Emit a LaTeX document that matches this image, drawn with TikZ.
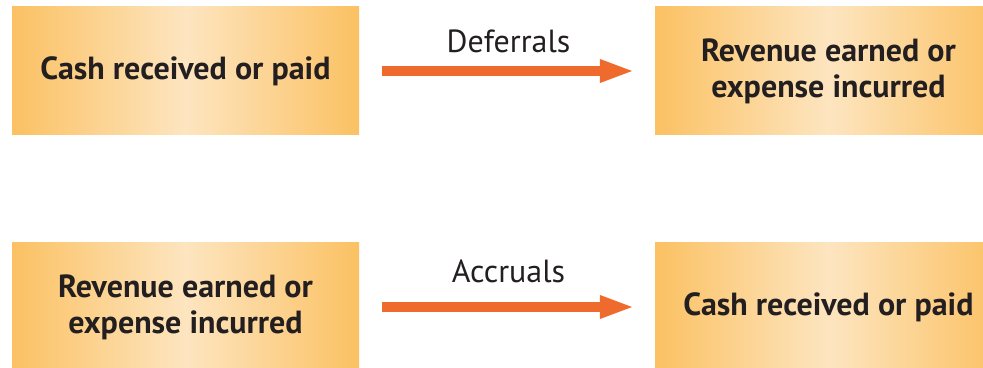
\documentclass[tikz,border=0pt]{standalone}
\usepackage{fontspec}
\setmainfont{PT Sans}
\usetikzlibrary{arrows.meta}
\definecolor{boxedge}{HTML}{FBC163}
\definecolor{boxmid}{HTML}{FDE5C0}
\definecolor{flow}{HTML}{EE6B2D}
\definecolor{ink}{HTML}{231F20}
\tikzset{
  stage/.style={minimum width=347pt, minimum height=128pt, inner sep=0pt,
    left color=boxedge, right color=boxedge, middle color=boxmid,
    text=ink, align=center,
    font=\fontsize{32}{36}\selectfont\bfseries},
  flowarrow/.style={draw=flow, line width=10pt,
    -{Triangle[length=35pt,width=21pt]},
    shorten <=23pt, shorten >=20pt},
  flowlabel/.style={text=ink, anchor=base, inner sep=0pt,
    font=\fontsize{32}{36}\selectfont}
}
\begin{document}
\begin{tikzpicture}[x=1pt,y=1pt]
  \useasboundingbox (0,0) rectangle (983,367);
  \clip (0,0) rectangle (983,367);
  % deferrals row
  \node[stage] (cashA) at (185.5,296) {Cash received or paid};
  \node[stage] (revA) at (828.5,296) {Revenue earned or\\expense incurred};
  \draw[flowarrow] (cashA.east) -- (revA.west);
  \node[flowlabel] (defer) at (508.5,314) {Deferrals};
  % accruals row
  \node[stage] (revB) at (185.5,60) {Revenue earned or\\expense incurred};
  \node[stage] (cashB) at (828.5,60) {Cash received or paid};
  \draw[flowarrow] (revB.east) -- (cashB.west);
  \node[flowlabel] (accr) at (508.5,84) {Accruals};
\end{tikzpicture}
\end{document}
